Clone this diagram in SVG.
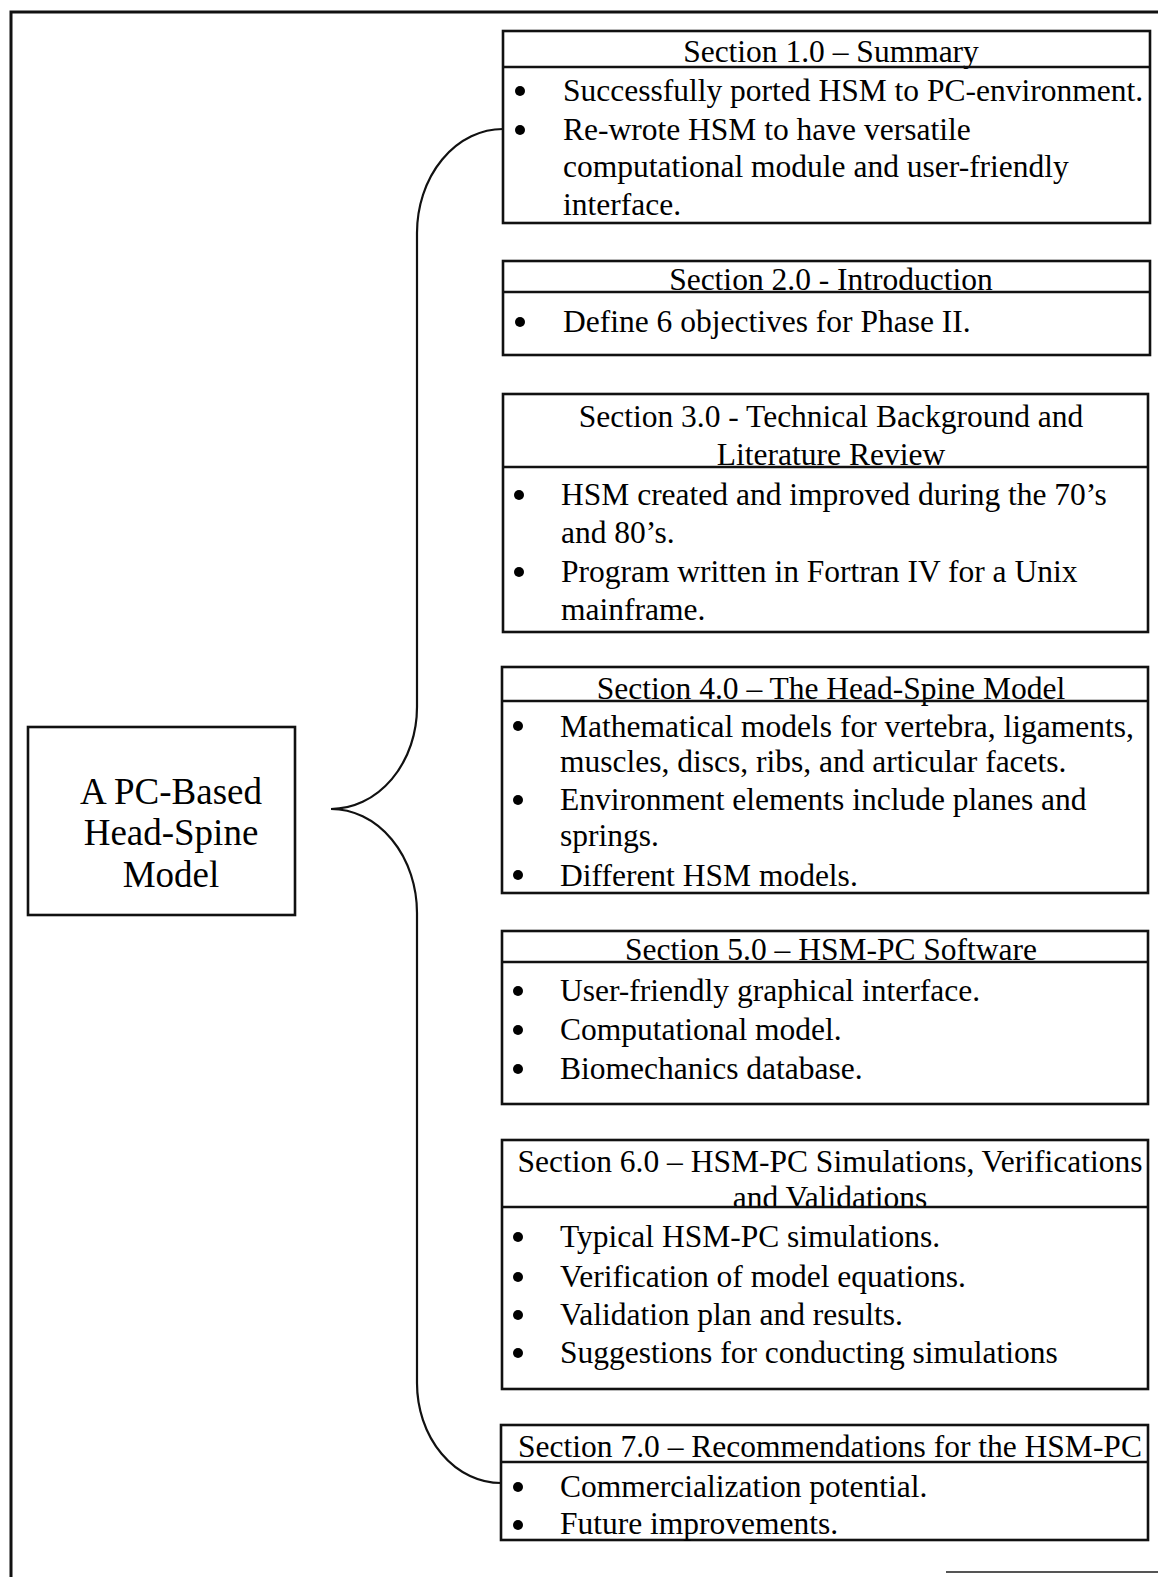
<svg xmlns="http://www.w3.org/2000/svg" width="1158" height="1577" viewBox="0 0 1158 1577">
<style>
.frame{fill:none;stroke:#111;stroke-width:3}
.box{fill:#fff;stroke:#111;stroke-width:2.6}
.div{stroke:#111;stroke-width:2.6}
.brace{fill:none;stroke:#111;stroke-width:2.2}
text{font-family:"Liberation Serif","Times New Roman",serif;fill:#000}
.t{font-size:31.5px}
.h{font-size:31.5px;text-anchor:middle}
.m{font-size:37px;text-anchor:middle}
.b{fill:#000}
</style>
<rect width="1158" height="1577" fill="#fff"/>
<g id="page-frame">
<path class="frame" d="M11 1577 L11 12 L1158 12"/>
<path d="M946 1572 L1158 1572" stroke="#555" stroke-width="2" fill="none"/>
</g>
<g id="connectors">
<path class="brace" d="M503 129 A86 104 0 0 0 417 233 L417 707 A86 102 0 0 1 331 809 A86 104 0 0 1 417 913 L417 1383 A84 100 0 0 0 501 1483"/>
</g>
<g id="main">
<rect class="box" x="28" y="727" width="267" height="188"/>
<text class="m" x="171" y="804">A PC-Based</text>
<text class="m" x="171" y="845">Head-Spine</text>
<text class="m" x="171" y="887">Model</text>
</g>
<g id="section1">
<rect class="box" x="503" y="31" width="647" height="192"/>
<text class="h" x="831" y="62">Section 1.0 – Summary</text>
<line class="div" x1="503" y1="67" x2="1150" y2="67"/>
<circle class="b" cx="520" cy="91" r="5"/><text class="t" x="563" y="101">Successfully ported HSM to PC-environment.</text>
<circle class="b" cx="520" cy="130" r="5"/><text class="t" x="563" y="140">Re-wrote HSM to have versatile</text>
<text class="t" x="563" y="177">computational module and user-friendly</text>
<text class="t" x="563" y="215">interface.</text>
</g>
<g id="section2">
<rect class="box" x="503" y="261" width="647" height="94"/>
<text class="h" x="831" y="290">Section 2.0 - Introduction</text>
<line class="div" x1="503" y1="292" x2="1150" y2="292"/>
<circle class="b" cx="520" cy="322" r="5"/><text class="t" x="563" y="332">Define 6 objectives for Phase II.</text>
</g>
<g id="section3">
<rect class="box" x="503" y="394" width="645" height="238"/>
<text class="h" x="831" y="427">Section 3.0 - Technical Background and</text>
<text class="h" x="831" y="465">Literature Review</text>
<line class="div" x1="503" y1="467" x2="1148" y2="467"/>
<circle class="b" cx="519" cy="495" r="5"/><text class="t" x="561" y="505">HSM created and improved during the 70’s</text>
<text class="t" x="561" y="543">and 80’s.</text>
<circle class="b" cx="519" cy="572" r="5"/><text class="t" x="561" y="582">Program written in Fortran IV for a Unix</text>
<text class="t" x="561" y="620">mainframe.</text>
</g>
<g id="section4">
<rect class="box" x="502" y="667" width="646" height="226"/>
<text class="h" x="831" y="699">Section 4.0 – The Head-Spine Model</text>
<line class="div" x1="502" y1="701" x2="1148" y2="701"/>
<circle class="b" cx="518" cy="726" r="5"/><text class="t" x="560" y="737">Mathematical models for vertebra, ligaments,</text>
<text class="t" x="560" y="772">muscles, discs, ribs, and articular facets.</text>
<circle class="b" cx="518" cy="800" r="5"/><text class="t" x="560" y="810">Environment elements include planes and</text>
<text class="t" x="560" y="846">springs.</text>
<circle class="b" cx="518" cy="875" r="5"/><text class="t" x="560" y="886">Different HSM models.</text>
</g>
<g id="section5">
<rect class="box" x="502" y="931" width="646" height="173"/>
<text class="h" x="831" y="960">Section 5.0 – HSM-PC Software</text>
<line class="div" x1="502" y1="962" x2="1148" y2="962"/>
<circle class="b" cx="518" cy="991" r="5"/><text class="t" x="560" y="1001">User-friendly graphical interface.</text>
<circle class="b" cx="518" cy="1030" r="5"/><text class="t" x="560" y="1040">Computational model.</text>
<circle class="b" cx="518" cy="1069" r="5"/><text class="t" x="560" y="1079">Biomechanics database.</text>
</g>
<g id="section6">
<rect class="box" x="502" y="1140" width="646" height="249"/>
<text class="h" x="830" y="1172">Section 6.0 – HSM-PC Simulations, Verifications</text>
<text class="h" x="830" y="1208">and Validations</text>
<line class="div" x1="502" y1="1207" x2="1148" y2="1207"/>
<circle class="b" cx="518" cy="1237" r="5"/><text class="t" x="560" y="1247">Typical HSM-PC simulations.</text>
<circle class="b" cx="518" cy="1277" r="5"/><text class="t" x="560" y="1287">Verification of model equations.</text>
<circle class="b" cx="518" cy="1315" r="5"/><text class="t" x="560" y="1325">Validation plan and results.</text>
<circle class="b" cx="518" cy="1353" r="5"/><text class="t" x="560" y="1363">Suggestions for conducting simulations</text>
</g>
<g id="section7">
<rect class="box" x="501" y="1425" width="647" height="115"/>
<text class="h" x="830" y="1457">Section 7.0 – Recommendations for the HSM-PC</text>
<line class="div" x1="501" y1="1462" x2="1148" y2="1462"/>
<circle class="b" cx="518" cy="1487" r="5"/><text class="t" x="560" y="1497">Commercialization potential.</text>
<circle class="b" cx="518" cy="1525" r="5"/><text class="t" x="560" y="1534">Future improvements.</text>
</g>
</svg>
